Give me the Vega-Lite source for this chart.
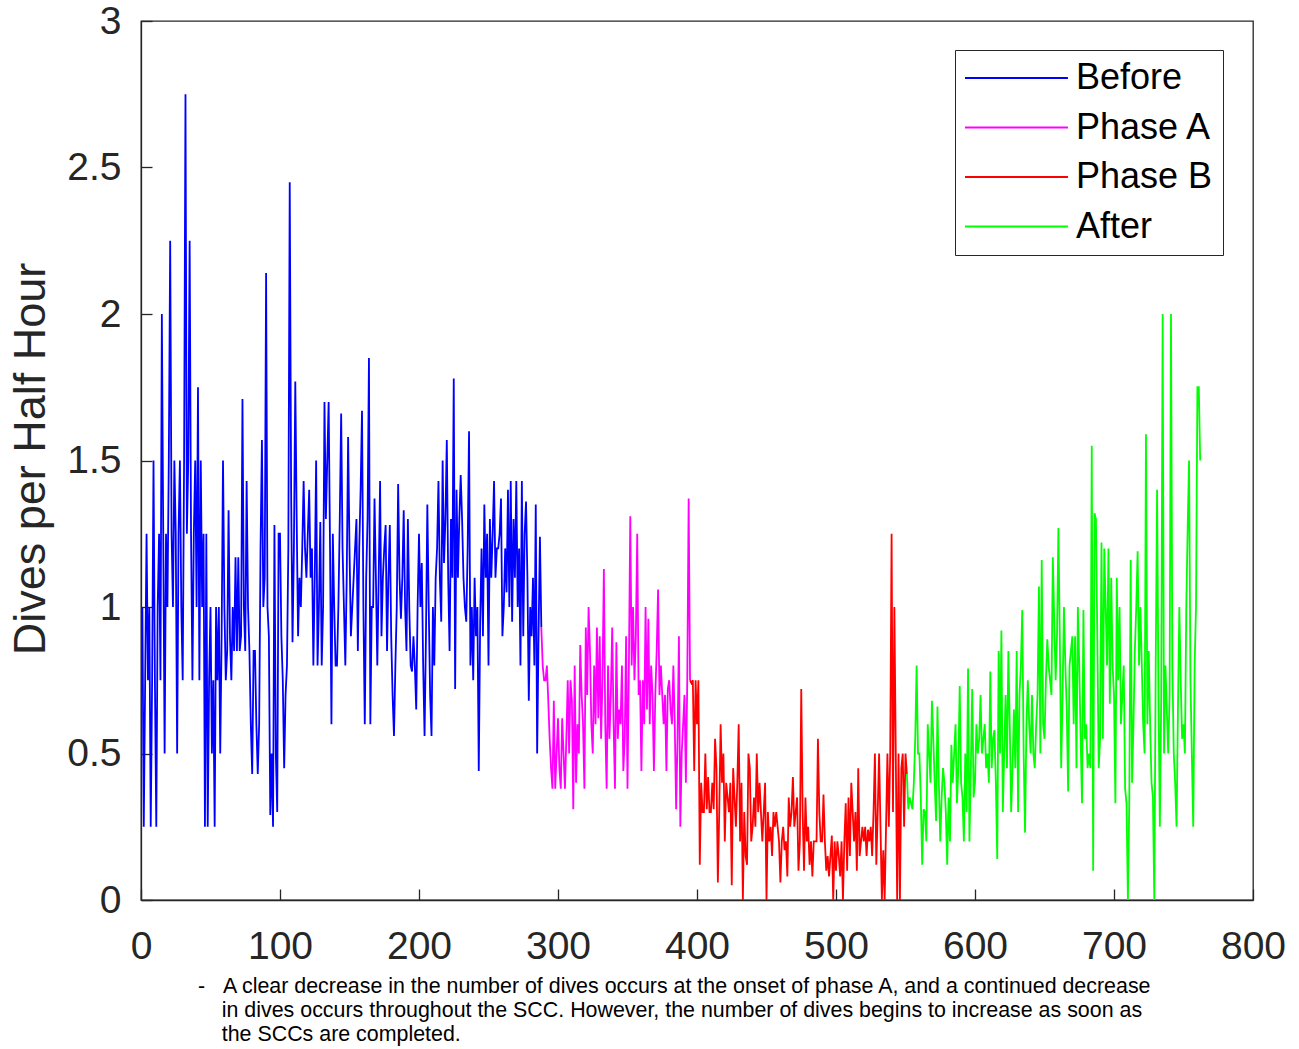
{
  "$schema": "https://vega.github.io/schema/vega-lite/v6.json",
  "autosize": {"type": "none"},
  "width": 1112,
  "height": 879,
  "padding": {"left": 141, "top": 21, "right": 46, "bottom": 149},
  "background": "white",
  "config": {
    "view": {"stroke": "#262626", "strokeWidth": 1.3},
    "font": "Liberation Sans"
  },
  "title": {
    "text": [
      "-\u00a0\u00a0\u00a0A clear decrease in the number of dives occurs at the onset of phase A, and a continued decrease",
      "\u200b\u00a0\u00a0\u00a0\u00a0in dives occurs throughout the SCC. However, the number of dives begins to increase as soon as",
      "\u200b\u00a0\u00a0\u00a0\u00a0the SCCs are completed."
    ],
    "orient": "bottom",
    "anchor": "start",
    "frame": "group",
    "dx": 57,
    "offset": 10,
    "font": "Liberation Sans",
    "fontSize": 21.4,
    "fontWeight": "normal",
    "color": "#000000",
    "lineHeight": 24
  },
  "data": {
    "values": [
      {"t":1,"d":1.0,"p":"Before"},{"t":2,"d":0.25,"p":"Before"},{"t":3,"d":0.75,"p":"Before"},{"t":4,"d":1.25,"p":"Before"},{"t":5,"d":0.75,"p":"Before"},{"t":6,"d":1.0,"p":"Before"},{"t":7,"d":0.25,"p":"Before"},{"t":8,"d":0.75,"p":"Before"},{"t":9,"d":1.5,"p":"Before"},{"t":10,"d":0.75,"p":"Before"},
      {"t":11,"d":0.25,"p":"Before"},{"t":12,"d":1.0,"p":"Before"},{"t":13,"d":1.25,"p":"Before"},{"t":14,"d":0.75,"p":"Before"},{"t":15,"d":2.0,"p":"Before"},{"t":16,"d":1.25,"p":"Before"},{"t":17,"d":0.5,"p":"Before"},{"t":18,"d":1.25,"p":"Before"},{"t":19,"d":1.0,"p":"Before"},{"t":20,"d":1.5,"p":"Before"},
      {"t":21,"d":2.25,"p":"Before"},{"t":22,"d":1.25,"p":"Before"},{"t":23,"d":1.0,"p":"Before"},{"t":24,"d":1.5,"p":"Before"},{"t":25,"d":1.25,"p":"Before"},{"t":26,"d":0.5,"p":"Before"},{"t":27,"d":1.25,"p":"Before"},{"t":28,"d":1.5,"p":"Before"},{"t":29,"d":1.0,"p":"Before"},{"t":30,"d":0.75,"p":"Before"},
      {"t":31,"d":1.5,"p":"Before"},{"t":32,"d":2.75,"p":"Before"},{"t":33,"d":1.25,"p":"Before"},{"t":34,"d":1.5,"p":"Before"},{"t":35,"d":2.25,"p":"Before"},{"t":36,"d":1.25,"p":"Before"},{"t":37,"d":0.75,"p":"Before"},{"t":38,"d":1.25,"p":"Before"},{"t":39,"d":1.5,"p":"Before"},{"t":40,"d":1.0,"p":"Before"},
      {"t":41,"d":1.75,"p":"Before"},{"t":42,"d":0.75,"p":"Before"},{"t":43,"d":1.5,"p":"Before"},{"t":44,"d":1.0,"p":"Before"},{"t":45,"d":1.25,"p":"Before"},{"t":46,"d":0.25,"p":"Before"},{"t":47,"d":1.25,"p":"Before"},{"t":48,"d":0.25,"p":"Before"},{"t":49,"d":0.75,"p":"Before"},{"t":50,"d":1.0,"p":"Before"},
      {"t":51,"d":0.5,"p":"Before"},{"t":52,"d":0.75,"p":"Before"},{"t":53,"d":0.25,"p":"Before"},{"t":54,"d":1.0,"p":"Before"},{"t":55,"d":0.75,"p":"Before"},{"t":56,"d":1.0,"p":"Before"},{"t":57,"d":0.5,"p":"Before"},{"t":58,"d":0.9,"p":"Before"},{"t":59,"d":1.5,"p":"Before"},{"t":60,"d":1.0,"p":"Before"},
      {"t":61,"d":0.75,"p":"Before"},{"t":62,"d":0.85,"p":"Before"},{"t":63,"d":1.33,"p":"Before"},{"t":64,"d":0.9,"p":"Before"},{"t":65,"d":0.75,"p":"Before"},{"t":66,"d":1.0,"p":"Before"},{"t":67,"d":0.85,"p":"Before"},{"t":68,"d":1.17,"p":"Before"},{"t":69,"d":0.85,"p":"Before"},{"t":70,"d":1.17,"p":"Before"},
      {"t":71,"d":0.85,"p":"Before"},{"t":72,"d":0.9,"p":"Before"},{"t":73,"d":1.71,"p":"Before"},{"t":74,"d":1.0,"p":"Before"},{"t":75,"d":0.85,"p":"Before"},{"t":76,"d":1.43,"p":"Before"},{"t":77,"d":1.0,"p":"Before"},{"t":78,"d":0.85,"p":"Before"},{"t":79,"d":0.6,"p":"Before"},{"t":80,"d":0.43,"p":"Before"},
      {"t":81,"d":0.85,"p":"Before"},{"t":82,"d":0.85,"p":"Before"},{"t":83,"d":0.6,"p":"Before"},{"t":84,"d":0.43,"p":"Before"},{"t":85,"d":0.6,"p":"Before"},{"t":86,"d":1.2,"p":"Before"},{"t":87,"d":1.57,"p":"Before"},{"t":88,"d":1.0,"p":"Before"},{"t":89,"d":1.1,"p":"Before"},{"t":90,"d":2.14,"p":"Before"},
      {"t":91,"d":1.0,"p":"Before"},{"t":92,"d":0.9,"p":"Before"},{"t":93,"d":0.29,"p":"Before"},{"t":94,"d":0.5,"p":"Before"},{"t":95,"d":0.25,"p":"Before"},{"t":96,"d":1.28,"p":"Before"},{"t":97,"d":0.5,"p":"Before"},{"t":98,"d":0.3,"p":"Before"},{"t":99,"d":1.25,"p":"Before"},{"t":100,"d":1.25,"p":"Before"},
      {"t":101,"d":0.9,"p":"Before"},{"t":102,"d":0.75,"p":"Before"},{"t":103,"d":0.45,"p":"Before"},{"t":104,"d":0.7,"p":"Before"},{"t":105,"d":0.8,"p":"Before"},{"t":106,"d":1.2,"p":"Before"},{"t":107,"d":2.45,"p":"Before"},{"t":108,"d":1.4,"p":"Before"},{"t":109,"d":0.88,"p":"Before"},{"t":110,"d":1.2,"p":"Before"},
      {"t":111,"d":1.77,"p":"Before"},{"t":112,"d":1.3,"p":"Before"},{"t":113,"d":0.9,"p":"Before"},{"t":114,"d":1.1,"p":"Before"},{"t":115,"d":1.0,"p":"Before"},{"t":116,"d":1.2,"p":"Before"},{"t":117,"d":1.43,"p":"Before"},{"t":118,"d":1.2,"p":"Before"},{"t":119,"d":1.1,"p":"Before"},{"t":120,"d":1.25,"p":"Before"},
      {"t":121,"d":1.4,"p":"Before"},{"t":122,"d":1.1,"p":"Before"},{"t":123,"d":1.2,"p":"Before"},{"t":124,"d":0.8,"p":"Before"},{"t":125,"d":1.1,"p":"Before"},{"t":126,"d":1.5,"p":"Before"},{"t":127,"d":0.8,"p":"Before"},{"t":128,"d":1.0,"p":"Before"},{"t":129,"d":1.29,"p":"Before"},{"t":130,"d":0.8,"p":"Before"},
      {"t":131,"d":1.0,"p":"Before"},{"t":132,"d":1.7,"p":"Before"},{"t":133,"d":1.3,"p":"Before"},{"t":134,"d":1.5,"p":"Before"},{"t":135,"d":1.7,"p":"Before"},{"t":136,"d":1.2,"p":"Before"},{"t":137,"d":0.6,"p":"Before"},{"t":138,"d":1.25,"p":"Before"},{"t":139,"d":1.0,"p":"Before"},{"t":140,"d":0.8,"p":"Before"},
      {"t":141,"d":0.8,"p":"Before"},{"t":142,"d":1.0,"p":"Before"},{"t":143,"d":1.3,"p":"Before"},{"t":144,"d":1.66,"p":"Before"},{"t":145,"d":1.2,"p":"Before"},{"t":146,"d":1.0,"p":"Before"},{"t":147,"d":0.8,"p":"Before"},{"t":148,"d":1.1,"p":"Before"},{"t":149,"d":1.58,"p":"Before"},{"t":150,"d":1.2,"p":"Before"},
      {"t":151,"d":0.9,"p":"Before"},{"t":152,"d":1.0,"p":"Before"},{"t":153,"d":1.1,"p":"Before"},{"t":154,"d":1.2,"p":"Before"},{"t":155,"d":1.3,"p":"Before"},{"t":156,"d":0.85,"p":"Before"},{"t":157,"d":1.2,"p":"Before"},{"t":158,"d":1.4,"p":"Before"},{"t":159,"d":1.67,"p":"Before"},{"t":160,"d":1.0,"p":"Before"},
      {"t":161,"d":0.6,"p":"Before"},{"t":162,"d":1.1,"p":"Before"},{"t":163,"d":1.3,"p":"Before"},{"t":164,"d":1.85,"p":"Before"},{"t":165,"d":0.6,"p":"Before"},{"t":166,"d":1.0,"p":"Before"},{"t":167,"d":1.0,"p":"Before"},{"t":168,"d":1.37,"p":"Before"},{"t":169,"d":1.1,"p":"Before"},{"t":170,"d":0.8,"p":"Before"},
      {"t":171,"d":1.1,"p":"Before"},{"t":172,"d":1.43,"p":"Before"},{"t":173,"d":0.9,"p":"Before"},{"t":174,"d":1.1,"p":"Before"},{"t":175,"d":1.2,"p":"Before"},{"t":176,"d":1.28,"p":"Before"},{"t":177,"d":0.85,"p":"Before"},{"t":178,"d":1.1,"p":"Before"},{"t":179,"d":1.28,"p":"Before"},{"t":180,"d":0.9,"p":"Before"},
      {"t":181,"d":0.7,"p":"Before"},{"t":182,"d":0.56,"p":"Before"},{"t":183,"d":0.8,"p":"Before"},{"t":184,"d":1.0,"p":"Before"},{"t":185,"d":1.42,"p":"Before"},{"t":186,"d":1.1,"p":"Before"},{"t":187,"d":0.96,"p":"Before"},{"t":188,"d":1.1,"p":"Before"},{"t":189,"d":1.33,"p":"Before"},{"t":190,"d":1.0,"p":"Before"},
      {"t":191,"d":0.85,"p":"Before"},{"t":192,"d":1.3,"p":"Before"},{"t":193,"d":1.0,"p":"Before"},{"t":194,"d":0.8,"p":"Before"},{"t":195,"d":0.78,"p":"Before"},{"t":196,"d":0.9,"p":"Before"},{"t":197,"d":0.8,"p":"Before"},{"t":198,"d":0.65,"p":"Before"},{"t":199,"d":1.0,"p":"Before"},{"t":200,"d":1.25,"p":"Before"},
      {"t":201,"d":1.0,"p":"Before"},{"t":202,"d":1.15,"p":"Before"},{"t":203,"d":0.8,"p":"Before"},{"t":204,"d":0.56,"p":"Before"},{"t":205,"d":0.9,"p":"Before"},{"t":206,"d":1.35,"p":"Before"},{"t":207,"d":1.0,"p":"Before"},{"t":208,"d":0.7,"p":"Before"},{"t":209,"d":0.56,"p":"Before"},{"t":210,"d":1.0,"p":"Before"},
      {"t":211,"d":0.8,"p":"Before"},{"t":212,"d":1.1,"p":"Before"},{"t":213,"d":1.2,"p":"Before"},{"t":214,"d":1.43,"p":"Before"},{"t":215,"d":1.1,"p":"Before"},{"t":216,"d":0.95,"p":"Before"},{"t":217,"d":1.5,"p":"Before"},{"t":218,"d":1.15,"p":"Before"},{"t":219,"d":1.3,"p":"Before"},{"t":220,"d":1.57,"p":"Before"},
      {"t":221,"d":1.1,"p":"Before"},{"t":222,"d":0.85,"p":"Before"},{"t":223,"d":1.3,"p":"Before"},{"t":224,"d":1.1,"p":"Before"},{"t":225,"d":1.78,"p":"Before"},{"t":226,"d":0.72,"p":"Before"},{"t":227,"d":1.4,"p":"Before"},{"t":228,"d":1.1,"p":"Before"},{"t":229,"d":1.3,"p":"Before"},{"t":230,"d":1.45,"p":"Before"},
      {"t":231,"d":1.3,"p":"Before"},{"t":232,"d":1.1,"p":"Before"},{"t":233,"d":1.0,"p":"Before"},{"t":234,"d":0.95,"p":"Before"},{"t":235,"d":1.2,"p":"Before"},{"t":236,"d":1.6,"p":"Before"},{"t":237,"d":0.8,"p":"Before"},{"t":238,"d":1.0,"p":"Before"},{"t":239,"d":0.75,"p":"Before"},{"t":240,"d":1.1,"p":"Before"},
      {"t":241,"d":0.9,"p":"Before"},{"t":242,"d":1.0,"p":"Before"},{"t":243,"d":0.44,"p":"Before"},{"t":244,"d":0.95,"p":"Before"},{"t":245,"d":1.2,"p":"Before"},{"t":246,"d":0.9,"p":"Before"},{"t":247,"d":1.35,"p":"Before"},{"t":248,"d":1.1,"p":"Before"},{"t":249,"d":1.25,"p":"Before"},{"t":250,"d":0.8,"p":"Before"},
      {"t":251,"d":1.3,"p":"Before"},{"t":252,"d":1.1,"p":"Before"},{"t":253,"d":1.25,"p":"Before"},{"t":254,"d":1.43,"p":"Before"},{"t":255,"d":1.1,"p":"Before"},{"t":256,"d":1.2,"p":"Before"},{"t":257,"d":1.2,"p":"Before"},{"t":258,"d":1.25,"p":"Before"},{"t":259,"d":1.37,"p":"Before"},{"t":260,"d":0.9,"p":"Before"},
      {"t":261,"d":1.0,"p":"Before"},{"t":262,"d":1.2,"p":"Before"},{"t":263,"d":1.05,"p":"Before"},{"t":264,"d":1.4,"p":"Before"},{"t":265,"d":1.0,"p":"Before"},{"t":266,"d":1.43,"p":"Before"},{"t":267,"d":0.95,"p":"Before"},{"t":268,"d":1.3,"p":"Before"},{"t":269,"d":1.1,"p":"Before"},{"t":270,"d":1.43,"p":"Before"},
      {"t":271,"d":1.0,"p":"Before"},{"t":272,"d":1.2,"p":"Before"},{"t":273,"d":0.8,"p":"Before"},{"t":274,"d":1.43,"p":"Before"},{"t":275,"d":0.9,"p":"Before"},{"t":276,"d":1.25,"p":"Before"},{"t":277,"d":1.36,"p":"Before"},{"t":278,"d":1.1,"p":"Before"},{"t":279,"d":0.68,"p":"Before"},{"t":280,"d":1.0,"p":"Before"},
      {"t":281,"d":0.9,"p":"Before"},{"t":282,"d":1.1,"p":"Before"},{"t":283,"d":0.8,"p":"Before"},{"t":284,"d":1.35,"p":"Before"},{"t":285,"d":0.5,"p":"Before"},{"t":286,"d":0.9,"p":"Before"},{"t":287,"d":1.24,"p":"Before"},{"t":288,"d":0.93,"p":"Before"},

      {"t":288,"d":0.93,"p":"Phase A"},{"t":289,"d":0.8,"p":"Phase A"},{"t":290,"d":0.75,"p":"Phase A"},{"t":291,"d":0.75,"p":"Phase A"},{"t":292,"d":0.8,"p":"Phase A"},{"t":293,"d":0.68,"p":"Phase A"},{"t":294,"d":0.55,"p":"Phase A"},{"t":295,"d":0.45,"p":"Phase A"},{"t":296,"d":0.38,"p":"Phase A"},{"t":297,"d":0.68,"p":"Phase A"},
      {"t":298,"d":0.38,"p":"Phase A"},{"t":299,"d":0.5,"p":"Phase A"},{"t":300,"d":0.62,"p":"Phase A"},{"t":301,"d":0.45,"p":"Phase A"},{"t":302,"d":0.38,"p":"Phase A"},{"t":303,"d":0.62,"p":"Phase A"},{"t":304,"d":0.5,"p":"Phase A"},{"t":305,"d":0.38,"p":"Phase A"},{"t":306,"d":0.55,"p":"Phase A"},{"t":307,"d":0.75,"p":"Phase A"},
      {"t":308,"d":0.5,"p":"Phase A"},{"t":309,"d":0.75,"p":"Phase A"},{"t":310,"d":0.68,"p":"Phase A"},{"t":311,"d":0.31,"p":"Phase A"},{"t":312,"d":0.8,"p":"Phase A"},{"t":313,"d":0.4,"p":"Phase A"},{"t":314,"d":0.6,"p":"Phase A"},{"t":315,"d":0.5,"p":"Phase A"},{"t":316,"d":0.87,"p":"Phase A"},{"t":317,"d":0.7,"p":"Phase A"},
      {"t":318,"d":0.6,"p":"Phase A"},{"t":319,"d":0.38,"p":"Phase A"},{"t":320,"d":0.93,"p":"Phase A"},{"t":321,"d":0.7,"p":"Phase A"},{"t":322,"d":1.0,"p":"Phase A"},{"t":323,"d":0.85,"p":"Phase A"},{"t":324,"d":0.6,"p":"Phase A"},{"t":325,"d":0.5,"p":"Phase A"},{"t":326,"d":0.8,"p":"Phase A"},{"t":327,"d":0.6,"p":"Phase A"},
      {"t":328,"d":0.93,"p":"Phase A"},{"t":329,"d":0.62,"p":"Phase A"},{"t":330,"d":0.9,"p":"Phase A"},{"t":331,"d":0.55,"p":"Phase A"},{"t":332,"d":0.75,"p":"Phase A"},{"t":333,"d":1.13,"p":"Phase A"},{"t":334,"d":0.6,"p":"Phase A"},{"t":335,"d":0.38,"p":"Phase A"},{"t":336,"d":0.8,"p":"Phase A"},{"t":337,"d":0.55,"p":"Phase A"},
      {"t":338,"d":0.7,"p":"Phase A"},{"t":339,"d":0.93,"p":"Phase A"},{"t":340,"d":0.6,"p":"Phase A"},{"t":341,"d":0.38,"p":"Phase A"},{"t":342,"d":0.88,"p":"Phase A"},{"t":343,"d":0.55,"p":"Phase A"},{"t":344,"d":0.65,"p":"Phase A"},{"t":345,"d":0.6,"p":"Phase A"},{"t":346,"d":0.8,"p":"Phase A"},{"t":347,"d":0.44,"p":"Phase A"},
      {"t":348,"d":0.55,"p":"Phase A"},{"t":349,"d":0.9,"p":"Phase A"},{"t":350,"d":0.38,"p":"Phase A"},{"t":351,"d":0.8,"p":"Phase A"},{"t":352,"d":1.31,"p":"Phase A"},{"t":353,"d":0.8,"p":"Phase A"},{"t":354,"d":1.0,"p":"Phase A"},{"t":355,"d":0.75,"p":"Phase A"},{"t":356,"d":0.9,"p":"Phase A"},{"t":357,"d":1.25,"p":"Phase A"},
      {"t":358,"d":0.7,"p":"Phase A"},{"t":359,"d":0.75,"p":"Phase A"},{"t":360,"d":0.44,"p":"Phase A"},{"t":361,"d":0.75,"p":"Phase A"},{"t":362,"d":0.6,"p":"Phase A"},{"t":363,"d":1.0,"p":"Phase A"},{"t":364,"d":0.65,"p":"Phase A"},{"t":365,"d":0.96,"p":"Phase A"},{"t":366,"d":0.6,"p":"Phase A"},{"t":367,"d":0.8,"p":"Phase A"},
      {"t":368,"d":0.7,"p":"Phase A"},{"t":369,"d":0.44,"p":"Phase A"},{"t":370,"d":0.7,"p":"Phase A"},{"t":371,"d":0.85,"p":"Phase A"},{"t":372,"d":1.06,"p":"Phase A"},{"t":373,"d":0.7,"p":"Phase A"},{"t":374,"d":0.8,"p":"Phase A"},{"t":375,"d":0.7,"p":"Phase A"},{"t":376,"d":0.6,"p":"Phase A"},{"t":377,"d":0.7,"p":"Phase A"},
      {"t":378,"d":0.44,"p":"Phase A"},{"t":379,"d":0.72,"p":"Phase A"},{"t":380,"d":0.75,"p":"Phase A"},{"t":381,"d":0.65,"p":"Phase A"},{"t":382,"d":0.6,"p":"Phase A"},{"t":383,"d":0.8,"p":"Phase A"},{"t":384,"d":0.6,"p":"Phase A"},{"t":385,"d":0.31,"p":"Phase A"},{"t":386,"d":0.55,"p":"Phase A"},{"t":387,"d":0.9,"p":"Phase A"},
      {"t":388,"d":0.25,"p":"Phase A"},{"t":389,"d":0.5,"p":"Phase A"},{"t":390,"d":0.6,"p":"Phase A"},{"t":391,"d":0.7,"p":"Phase A"},{"t":392,"d":0.4,"p":"Phase A"},{"t":393,"d":0.75,"p":"Phase A"},{"t":394,"d":1.37,"p":"Phase A"},{"t":395,"d":0.75,"p":"Phase A"},

      {"t":395,"d":0.75,"p":"Phase B"},{"t":396,"d":0.74,"p":"Phase B"},{"t":397,"d":0.75,"p":"Phase B"},{"t":398,"d":0.44,"p":"Phase B"},{"t":399,"d":0.75,"p":"Phase B"},{"t":400,"d":0.6,"p":"Phase B"},{"t":401,"d":0.75,"p":"Phase B"},{"t":402,"d":0.12,"p":"Phase B"},{"t":403,"d":0.4,"p":"Phase B"},{"t":404,"d":0.3,"p":"Phase B"},
      {"t":405,"d":0.3,"p":"Phase B"},{"t":406,"d":0.5,"p":"Phase B"},{"t":407,"d":0.31,"p":"Phase B"},{"t":408,"d":0.42,"p":"Phase B"},{"t":409,"d":0.3,"p":"Phase B"},{"t":410,"d":0.3,"p":"Phase B"},{"t":411,"d":0.4,"p":"Phase B"},{"t":412,"d":0.31,"p":"Phase B"},{"t":413,"d":0.55,"p":"Phase B"},{"t":414,"d":0.45,"p":"Phase B"},
      {"t":415,"d":0.06,"p":"Phase B"},{"t":416,"d":0.3,"p":"Phase B"},{"t":417,"d":0.6,"p":"Phase B"},{"t":418,"d":0.4,"p":"Phase B"},{"t":419,"d":0.5,"p":"Phase B"},{"t":420,"d":0.2,"p":"Phase B"},{"t":421,"d":0.4,"p":"Phase B"},{"t":422,"d":0.35,"p":"Phase B"},{"t":423,"d":0.3,"p":"Phase B"},{"t":424,"d":0.4,"p":"Phase B"},
      {"t":425,"d":0.05,"p":"Phase B"},{"t":426,"d":0.45,"p":"Phase B"},{"t":427,"d":0.35,"p":"Phase B"},{"t":428,"d":0.25,"p":"Phase B"},{"t":429,"d":0.4,"p":"Phase B"},{"t":430,"d":0.6,"p":"Phase B"},{"t":431,"d":0.2,"p":"Phase B"},{"t":432,"d":0.4,"p":"Phase B"},{"t":433,"d":0.0,"p":"Phase B"},{"t":434,"d":0.3,"p":"Phase B"},
      {"t":435,"d":0.15,"p":"Phase B"},{"t":436,"d":0.12,"p":"Phase B"},{"t":437,"d":0.5,"p":"Phase B"},{"t":438,"d":0.45,"p":"Phase B"},{"t":439,"d":0.2,"p":"Phase B"},{"t":440,"d":0.25,"p":"Phase B"},{"t":441,"d":0.35,"p":"Phase B"},{"t":442,"d":0.25,"p":"Phase B"},{"t":443,"d":0.5,"p":"Phase B"},{"t":444,"d":0.3,"p":"Phase B"},
      {"t":445,"d":0.4,"p":"Phase B"},{"t":446,"d":0.3,"p":"Phase B"},{"t":447,"d":0.2,"p":"Phase B"},{"t":448,"d":0.3,"p":"Phase B"},{"t":449,"d":0.4,"p":"Phase B"},{"t":450,"d":0.0,"p":"Phase B"},{"t":451,"d":0.3,"p":"Phase B"},{"t":452,"d":0.2,"p":"Phase B"},{"t":453,"d":0.25,"p":"Phase B"},{"t":454,"d":0.15,"p":"Phase B"},
      {"t":455,"d":0.3,"p":"Phase B"},{"t":456,"d":0.25,"p":"Phase B"},{"t":457,"d":0.3,"p":"Phase B"},{"t":458,"d":0.25,"p":"Phase B"},{"t":459,"d":0.2,"p":"Phase B"},{"t":460,"d":0.06,"p":"Phase B"},{"t":461,"d":0.2,"p":"Phase B"},{"t":462,"d":0.25,"p":"Phase B"},{"t":463,"d":0.17,"p":"Phase B"},{"t":464,"d":0.2,"p":"Phase B"},
      {"t":465,"d":0.08,"p":"Phase B"},{"t":466,"d":0.35,"p":"Phase B"},{"t":467,"d":0.25,"p":"Phase B"},{"t":468,"d":0.3,"p":"Phase B"},{"t":469,"d":0.42,"p":"Phase B"},{"t":470,"d":0.25,"p":"Phase B"},{"t":471,"d":0.3,"p":"Phase B"},{"t":472,"d":0.35,"p":"Phase B"},{"t":473,"d":0.1,"p":"Phase B"},{"t":474,"d":0.2,"p":"Phase B"},
      {"t":475,"d":0.72,"p":"Phase B"},{"t":476,"d":0.3,"p":"Phase B"},{"t":477,"d":0.1,"p":"Phase B"},{"t":478,"d":0.35,"p":"Phase B"},{"t":479,"d":0.2,"p":"Phase B"},{"t":480,"d":0.25,"p":"Phase B"},{"t":481,"d":0.12,"p":"Phase B"},{"t":482,"d":0.2,"p":"Phase B"},{"t":483,"d":0.08,"p":"Phase B"},{"t":484,"d":0.2,"p":"Phase B"},
      {"t":485,"d":0.2,"p":"Phase B"},{"t":486,"d":0.2,"p":"Phase B"},{"t":487,"d":0.55,"p":"Phase B"},{"t":488,"d":0.3,"p":"Phase B"},{"t":489,"d":0.2,"p":"Phase B"},{"t":490,"d":0.2,"p":"Phase B"},{"t":491,"d":0.36,"p":"Phase B"},{"t":492,"d":0.2,"p":"Phase B"},{"t":493,"d":0.1,"p":"Phase B"},{"t":494,"d":0.15,"p":"Phase B"},
      {"t":495,"d":0.08,"p":"Phase B"},{"t":496,"d":0.15,"p":"Phase B"},{"t":497,"d":0.22,"p":"Phase B"},{"t":498,"d":0.0,"p":"Phase B"},{"t":499,"d":0.2,"p":"Phase B"},{"t":500,"d":0.1,"p":"Phase B"},{"t":501,"d":0.2,"p":"Phase B"},{"t":502,"d":0.15,"p":"Phase B"},{"t":503,"d":0.08,"p":"Phase B"},{"t":504,"d":0.2,"p":"Phase B"},
      {"t":505,"d":0.0,"p":"Phase B"},{"t":506,"d":0.2,"p":"Phase B"},{"t":507,"d":0.33,"p":"Phase B"},{"t":508,"d":0.1,"p":"Phase B"},{"t":509,"d":0.35,"p":"Phase B"},{"t":510,"d":0.15,"p":"Phase B"},{"t":511,"d":0.4,"p":"Phase B"},{"t":512,"d":0.3,"p":"Phase B"},{"t":513,"d":0.2,"p":"Phase B"},{"t":514,"d":0.3,"p":"Phase B"},
      {"t":515,"d":0.1,"p":"Phase B"},{"t":516,"d":0.45,"p":"Phase B"},{"t":517,"d":0.15,"p":"Phase B"},{"t":518,"d":0.2,"p":"Phase B"},{"t":519,"d":0.25,"p":"Phase B"},{"t":520,"d":0.2,"p":"Phase B"},{"t":521,"d":0.25,"p":"Phase B"},{"t":522,"d":0.15,"p":"Phase B"},{"t":523,"d":0.24,"p":"Phase B"},{"t":524,"d":0.2,"p":"Phase B"},
      {"t":525,"d":0.25,"p":"Phase B"},{"t":526,"d":0.15,"p":"Phase B"},{"t":527,"d":0.3,"p":"Phase B"},{"t":528,"d":0.5,"p":"Phase B"},{"t":529,"d":0.12,"p":"Phase B"},{"t":530,"d":0.3,"p":"Phase B"},{"t":531,"d":0.5,"p":"Phase B"},{"t":532,"d":0.25,"p":"Phase B"},{"t":533,"d":0.0,"p":"Phase B"},{"t":534,"d":0.17,"p":"Phase B"},
      {"t":535,"d":0.0,"p":"Phase B"},{"t":536,"d":0.25,"p":"Phase B"},{"t":537,"d":0.5,"p":"Phase B"},{"t":538,"d":0.25,"p":"Phase B"},{"t":539,"d":0.5,"p":"Phase B"},{"t":540,"d":1.25,"p":"Phase B"},{"t":541,"d":0.3,"p":"Phase B"},{"t":542,"d":1.0,"p":"Phase B"},{"t":543,"d":0.5,"p":"Phase B"},{"t":544,"d":0.0,"p":"Phase B"},
      {"t":545,"d":0.5,"p":"Phase B"},{"t":546,"d":0.0,"p":"Phase B"},{"t":547,"d":0.45,"p":"Phase B"},{"t":548,"d":0.5,"p":"Phase B"},{"t":549,"d":0.25,"p":"Phase B"},{"t":550,"d":0.5,"p":"Phase B"},{"t":551,"d":0.43,"p":"Phase B"},

      {"t":551,"d":0.43,"p":"After"},{"t":552,"d":0.31,"p":"After"},{"t":553,"d":0.35,"p":"After"},{"t":554,"d":0.33,"p":"After"},{"t":555,"d":0.31,"p":"After"},{"t":556,"d":0.4,"p":"After"},{"t":557,"d":0.55,"p":"After"},{"t":558,"d":0.8,"p":"After"},{"t":559,"d":0.5,"p":"After"},{"t":560,"d":0.5,"p":"After"},
      {"t":561,"d":0.35,"p":"After"},{"t":562,"d":0.12,"p":"After"},{"t":563,"d":0.31,"p":"After"},{"t":564,"d":0.3,"p":"After"},{"t":565,"d":0.2,"p":"After"},{"t":566,"d":0.6,"p":"After"},{"t":567,"d":0.5,"p":"After"},{"t":568,"d":0.4,"p":"After"},{"t":569,"d":0.68,"p":"After"},{"t":570,"d":0.55,"p":"After"},
      {"t":571,"d":0.4,"p":"After"},{"t":572,"d":0.27,"p":"After"},{"t":573,"d":0.66,"p":"After"},{"t":574,"d":0.4,"p":"After"},{"t":575,"d":0.2,"p":"After"},{"t":576,"d":0.35,"p":"After"},{"t":577,"d":0.45,"p":"After"},{"t":578,"d":0.4,"p":"After"},{"t":579,"d":0.3,"p":"After"},{"t":580,"d":0.12,"p":"After"},
      {"t":581,"d":0.35,"p":"After"},{"t":582,"d":0.2,"p":"After"},{"t":583,"d":0.53,"p":"After"},{"t":584,"d":0.4,"p":"After"},{"t":585,"d":0.5,"p":"After"},{"t":586,"d":0.6,"p":"After"},{"t":587,"d":0.33,"p":"After"},{"t":588,"d":0.45,"p":"After"},{"t":589,"d":0.73,"p":"After"},{"t":590,"d":0.4,"p":"After"},
      {"t":591,"d":0.35,"p":"After"},{"t":592,"d":0.2,"p":"After"},{"t":593,"d":0.5,"p":"After"},{"t":594,"d":0.3,"p":"After"},{"t":595,"d":0.79,"p":"After"},{"t":596,"d":0.2,"p":"After"},{"t":597,"d":0.45,"p":"After"},{"t":598,"d":0.72,"p":"After"},{"t":599,"d":0.35,"p":"After"},{"t":600,"d":0.4,"p":"After"},
      {"t":601,"d":0.6,"p":"After"},{"t":602,"d":0.5,"p":"After"},{"t":603,"d":0.55,"p":"After"},{"t":604,"d":0.7,"p":"After"},{"t":605,"d":0.5,"p":"After"},{"t":606,"d":0.55,"p":"After"},{"t":607,"d":0.6,"p":"After"},{"t":608,"d":0.45,"p":"After"},{"t":609,"d":0.5,"p":"After"},{"t":610,"d":0.4,"p":"After"},
      {"t":611,"d":0.78,"p":"After"},{"t":612,"d":0.45,"p":"After"},{"t":613,"d":0.55,"p":"After"},{"t":614,"d":0.58,"p":"After"},{"t":615,"d":0.4,"p":"After"},{"t":616,"d":0.14,"p":"After"},{"t":617,"d":0.85,"p":"After"},{"t":618,"d":0.5,"p":"After"},{"t":619,"d":0.92,"p":"After"},{"t":620,"d":0.3,"p":"After"},
      {"t":621,"d":0.5,"p":"After"},{"t":622,"d":0.7,"p":"After"},{"t":623,"d":0.45,"p":"After"},{"t":624,"d":0.85,"p":"After"},{"t":625,"d":0.6,"p":"After"},{"t":626,"d":0.3,"p":"After"},{"t":627,"d":0.45,"p":"After"},{"t":628,"d":0.65,"p":"After"},{"t":629,"d":0.45,"p":"After"},{"t":630,"d":0.85,"p":"After"},
      {"t":631,"d":0.3,"p":"After"},{"t":632,"d":0.7,"p":"After"},{"t":633,"d":0.8,"p":"After"},{"t":634,"d":0.99,"p":"After"},{"t":635,"d":0.5,"p":"After"},{"t":636,"d":0.23,"p":"After"},{"t":637,"d":0.6,"p":"After"},{"t":638,"d":0.75,"p":"After"},{"t":639,"d":0.6,"p":"After"},{"t":640,"d":0.5,"p":"After"},
      {"t":641,"d":0.7,"p":"After"},{"t":642,"d":0.5,"p":"After"},{"t":643,"d":0.45,"p":"After"},{"t":644,"d":0.6,"p":"After"},{"t":645,"d":0.7,"p":"After"},{"t":646,"d":1.07,"p":"After"},{"t":647,"d":0.5,"p":"After"},{"t":648,"d":1.16,"p":"After"},{"t":649,"d":0.6,"p":"After"},{"t":650,"d":0.55,"p":"After"},
      {"t":651,"d":0.75,"p":"After"},{"t":652,"d":0.89,"p":"After"},{"t":653,"d":0.8,"p":"After"},{"t":654,"d":0.75,"p":"After"},{"t":655,"d":0.7,"p":"After"},{"t":656,"d":1.17,"p":"After"},{"t":657,"d":0.95,"p":"After"},{"t":658,"d":0.75,"p":"After"},{"t":659,"d":0.9,"p":"After"},{"t":660,"d":1.27,"p":"After"},
      {"t":661,"d":0.9,"p":"After"},{"t":662,"d":0.45,"p":"After"},{"t":663,"d":0.7,"p":"After"},{"t":664,"d":1.0,"p":"After"},{"t":665,"d":0.8,"p":"After"},{"t":666,"d":0.65,"p":"After"},{"t":667,"d":0.37,"p":"After"},{"t":668,"d":0.8,"p":"After"},{"t":669,"d":0.85,"p":"After"},{"t":670,"d":0.9,"p":"After"},
      {"t":671,"d":0.6,"p":"After"},{"t":672,"d":0.9,"p":"After"},{"t":673,"d":0.45,"p":"After"},{"t":674,"d":1.0,"p":"After"},{"t":675,"d":0.8,"p":"After"},{"t":676,"d":0.55,"p":"After"},{"t":677,"d":0.33,"p":"After"},{"t":678,"d":0.99,"p":"After"},{"t":679,"d":0.55,"p":"After"},{"t":680,"d":0.6,"p":"After"},
      {"t":681,"d":0.45,"p":"After"},{"t":682,"d":0.5,"p":"After"},{"t":683,"d":0.45,"p":"After"},{"t":684,"d":1.55,"p":"After"},{"t":685,"d":0.1,"p":"After"},{"t":686,"d":1.32,"p":"After"},{"t":687,"d":1.3,"p":"After"},{"t":688,"d":0.9,"p":"After"},{"t":689,"d":0.45,"p":"After"},{"t":690,"d":0.55,"p":"After"},
      {"t":691,"d":1.22,"p":"After"},{"t":692,"d":0.55,"p":"After"},{"t":693,"d":1.2,"p":"After"},{"t":694,"d":1.0,"p":"After"},{"t":695,"d":0.8,"p":"After"},{"t":696,"d":1.2,"p":"After"},{"t":697,"d":0.67,"p":"After"},{"t":698,"d":1.1,"p":"After"},{"t":699,"d":0.8,"p":"After"},{"t":700,"d":0.7,"p":"After"},
      {"t":701,"d":0.33,"p":"After"},{"t":702,"d":1.1,"p":"After"},{"t":703,"d":0.75,"p":"After"},{"t":704,"d":1.0,"p":"After"},{"t":705,"d":0.6,"p":"After"},{"t":706,"d":0.7,"p":"After"},{"t":707,"d":0.8,"p":"After"},{"t":708,"d":0.38,"p":"After"},{"t":709,"d":0.33,"p":"After"},{"t":710,"d":0.0,"p":"After"},
      {"t":711,"d":0.33,"p":"After"},{"t":712,"d":1.16,"p":"After"},{"t":713,"d":0.4,"p":"After"},{"t":714,"d":0.6,"p":"After"},{"t":715,"d":0.85,"p":"After"},{"t":716,"d":1.0,"p":"After"},{"t":717,"d":1.19,"p":"After"},{"t":718,"d":0.8,"p":"After"},{"t":719,"d":1.0,"p":"After"},{"t":720,"d":0.8,"p":"After"},
      {"t":721,"d":0.6,"p":"After"},{"t":722,"d":0.5,"p":"After"},{"t":723,"d":1.59,"p":"After"},{"t":724,"d":0.6,"p":"After"},{"t":725,"d":0.85,"p":"After"},{"t":726,"d":0.6,"p":"After"},{"t":727,"d":0.4,"p":"After"},{"t":728,"d":0.35,"p":"After"},{"t":729,"d":0.0,"p":"After"},{"t":730,"d":0.8,"p":"After"},
      {"t":731,"d":1.4,"p":"After"},{"t":732,"d":0.7,"p":"After"},{"t":733,"d":0.25,"p":"After"},{"t":734,"d":0.7,"p":"After"},{"t":735,"d":2.0,"p":"After"},{"t":736,"d":0.5,"p":"After"},{"t":737,"d":0.8,"p":"After"},{"t":738,"d":0.65,"p":"After"},{"t":739,"d":0.5,"p":"After"},{"t":740,"d":0.7,"p":"After"},
      {"t":741,"d":2.0,"p":"After"},{"t":742,"d":0.8,"p":"After"},{"t":743,"d":0.5,"p":"After"},{"t":744,"d":0.4,"p":"After"},{"t":745,"d":0.25,"p":"After"},{"t":746,"d":0.65,"p":"After"},{"t":747,"d":1.0,"p":"After"},{"t":748,"d":0.75,"p":"After"},{"t":749,"d":0.55,"p":"After"},{"t":750,"d":0.6,"p":"After"},
      {"t":751,"d":0.5,"p":"After"},{"t":752,"d":1.0,"p":"After"},{"t":753,"d":1.27,"p":"After"},{"t":754,"d":1.5,"p":"After"},{"t":755,"d":0.75,"p":"After"},{"t":756,"d":0.5,"p":"After"},{"t":757,"d":0.25,"p":"After"},{"t":758,"d":0.8,"p":"After"},{"t":759,"d":1.0,"p":"After"},{"t":760,"d":1.75,"p":"After"},
      {"t":761,"d":1.75,"p":"After"},{"t":762,"d":1.5,"p":"After"}
    ]
  },
  "mark": {"type": "line", "strokeWidth": 1.8, "interpolate": "linear"},
  "encoding": {
    "x": {
      "field": "t",
      "type": "quantitative",
      "scale": {"domain": [0, 800], "nice": false, "zero": false},
      "axis": {
        "title": null,
        "values": [0, 100, 200, 300, 400, 500, 600, 700, 800],
        "grid": false,
        "domainColor": "#262626",
        "domainWidth": 1.3,
        "tickColor": "#262626",
        "tickWidth": 1.3,
        "tickSize": -11,
        "labelFont": "Liberation Sans",
        "labelFontSize": 39,
        "labelColor": "#262626",
        "labelPadding": 38,
        "labelFlush": false
      }
    },
    "y": {
      "field": "d",
      "type": "quantitative",
      "scale": {"domain": [0, 3], "nice": false, "zero": true},
      "axis": {
        "title": "Dives per Half Hour",
        "values": [0, 0.5, 1, 1.5, 2, 2.5, 3],
        "format": "~g",
        "grid": false,
        "domainColor": "#262626",
        "domainWidth": 1.3,
        "tickColor": "#262626",
        "tickWidth": 1.3,
        "tickSize": -11,
        "labelFont": "Liberation Sans",
        "labelFontSize": 39,
        "labelColor": "#262626",
        "labelPadding": 31,
        "labelFlush": false,
        "titleFont": "Liberation Sans",
        "titleFontSize": 45,
        "titleFontWeight": "normal",
        "titleColor": "#262626",
        "titleAngle": -90,
        "titleAlign": "center",
        "titleBaseline": "alphabetic",
        "titleX": -97,
        "titleY": 437.5
      }
    },
    "color": {
      "field": "p",
      "type": "nominal",
      "scale": {
        "domain": ["Before", "Phase A", "Phase B", "After"],
        "range": ["#0000ff", "#ff00ff", "#ff0000", "#00ff00"]
      },
      "legend": {
        "title": null,
        "orient": "none",
        "legendX": 814,
        "legendY": 29,
        "fillColor": "#ffffff",
        "strokeColor": "#262626",
        "padding": 10,
        "cornerRadius": 0,
        "symbolType": "M-1.75,0H8.25",
        "symbolSize": 424,
        "symbolStrokeWidth": 1.8,
        "labelFont": "Liberation Sans",
        "labelFontSize": 36,
        "labelColor": "#000000",
        "labelOffset": 75,
        "rowPadding": 13.5
      }
    }
  }
}
